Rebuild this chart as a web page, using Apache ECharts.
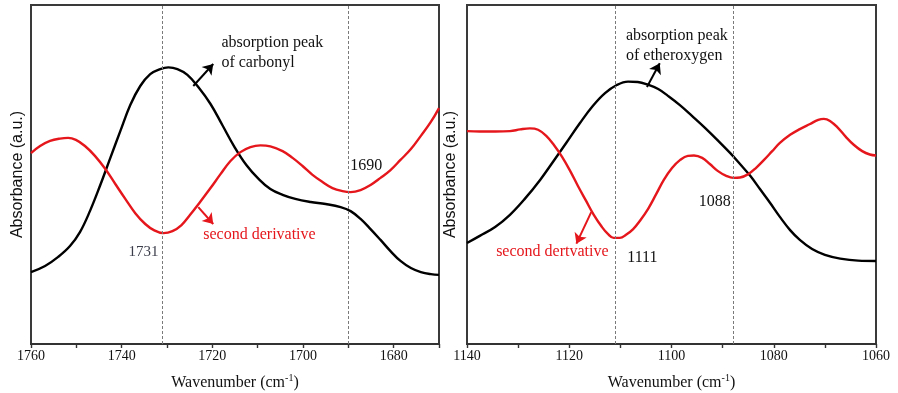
<!DOCTYPE html>
<html>
<head>
<meta charset="utf-8">
<script src="https://cdn.jsdelivr.net/npm/echarts@6/dist/echarts.min.js"></script>
<style>
  html, body { margin: 0; padding: 0; background: #fff; }
  #chart { width: 898px; height: 393px; }
</style>
</head>
<body>
<div id="chart"></div>
<script>
// Carbonyl region (1760–1670 cm-1): absorbance and its second derivative
const carbonylWn  = [1760, 1756.9, 1754, 1751.4, 1749.2, 1747, 1744.8, 1742.5, 1740.3, 1738.1, 1735.9, 1733.7, 1731.5, 1729.7, 1727.7, 1725.5, 1723.1, 1720.4, 1717.8, 1715.1, 1712.5, 1709.8, 1707.2, 1704.5, 1701.7, 1698.3, 1695, 1691.7, 1689.5, 1687.3, 1685.1, 1682.9, 1680.7, 1678.5, 1676.2, 1674, 1671.8, 1670];
const carbonylAbs = [21.2, 23.0, 25.7, 28.9, 33.0, 39.2, 46.6, 54.9, 62.8, 70.5, 76.1, 79.6, 81.1, 81.6, 81.1, 79.4, 75.8, 70.8, 64.6, 58.1, 52.8, 48.7, 45.7, 44.0, 42.8, 41.9, 41.3, 40.4, 39.2, 36.9, 33.9, 30.7, 27.4, 24.5, 22.4, 21.2, 20.6, 20.4];
const carbonylD2Wn = [1760, 1758, 1755.8, 1753.6, 1751.8, 1750.1, 1748.1, 1745.9, 1743.6, 1741.4, 1739.2, 1737, 1734.8, 1732.8, 1730.8, 1728.8, 1726.8, 1724.9, 1722.7, 1720.4, 1718.2, 1716, 1713.8, 1711.6, 1709.4, 1707.2, 1704.5, 1702.3, 1700.1, 1697.9, 1695.7, 1693.5, 1691.3, 1689.5, 1687.3, 1685.1, 1682.9, 1680.7, 1678.5, 1676.2, 1674, 1671.8, 1670];
const carbonylD2   = [56.3, 58.4, 59.9, 60.6, 60.8, 60.2, 58.4, 55.5, 51.6, 47.2, 42.8, 38.6, 35.4, 33.5, 32.7, 33.3, 35.1, 38.1, 41.9, 46.0, 50.1, 54.0, 56.6, 58.1, 58.6, 58.3, 56.9, 54.9, 52.5, 49.9, 47.8, 46.0, 45.1, 44.8, 45.4, 46.9, 49.0, 51.3, 54.3, 57.5, 61.4, 65.5, 69.6];

// Ether-oxygen region (1140–1060 cm-1)
const etherWn  = [1140, 1137.5, 1134.5, 1131.6, 1128.7, 1125.7, 1123.2, 1120.6, 1117.9, 1115.4, 1113, 1110.7, 1108.5, 1106.6, 1104.6, 1102.6, 1100.7, 1098.3, 1096, 1093.4, 1090.9, 1088.5, 1086.6, 1084.6, 1082.7, 1080.7, 1078.8, 1076.8, 1074.9, 1072.5, 1070, 1067, 1063.5, 1060];
const etherAbs = [29.8, 31.9, 34.5, 38.1, 42.8, 48.4, 53.7, 59.3, 65.2, 70.2, 74.0, 76.4, 77.4, 77.3, 76.5, 75.2, 73.2, 70.4, 67.3, 63.7, 60.0, 56.3, 53.1, 49.6, 45.7, 41.6, 37.5, 33.6, 30.7, 28.0, 26.3, 25.2, 24.6, 24.5];
const etherD2Wn = [1140, 1137.5, 1134.5, 1131.6, 1129.6, 1127.7, 1126.1, 1124.5, 1123, 1121.4, 1119.8, 1118.3, 1116.7, 1115.2, 1113.6, 1112.4, 1111.3, 1110.1, 1108.9, 1107.5, 1106.2, 1104.6, 1103, 1101.5, 1099.9, 1098.3, 1096.8, 1095.6, 1094, 1092.5, 1090.9, 1089.3, 1087.9, 1086.6, 1085, 1083.5, 1081.9, 1080.3, 1078.8, 1076.8, 1074.9, 1072.9, 1071.3, 1070.2, 1069, 1067.4, 1065.9, 1064.3, 1062.7, 1061.2, 1060];
const etherD2   = [62.8, 62.7, 62.7, 62.8, 63.3, 63.6, 63.2, 61.4, 58.7, 55.2, 51.0, 46.6, 42.2, 38.1, 34.5, 32.4, 31.3, 31.3, 32.2, 33.9, 36.3, 39.8, 44.2, 48.4, 51.9, 54.3, 55.5, 55.6, 54.9, 53.1, 51.0, 49.6, 49.0, 49.1, 50.1, 51.9, 54.3, 56.9, 59.3, 61.7, 63.4, 64.9, 66.1, 66.4, 65.8, 63.7, 61.1, 58.7, 56.9, 55.9, 55.6];

// Band positions marked by dashed guides
const carbonylBands = [1731, 1690];
const etherBands = [1111, 1088];

const SERIF = '"Liberation Serif", "DejaVu Serif", serif';
const SANS = '"Liberation Sans", Arial, sans-serif';
const RED = '#e5171c';

const pairs = (xs, ys) => xs.map((x, i) => [x, ys[i]]);

function xAxisFor(gridIndex, min, max) {
  return {
    type: 'value', gridIndex, min, max, interval: 10, inverse: true,
    axisLine: { show: true, onZero: false, lineStyle: { color: '#333', width: 2 } },
    axisTick: { show: true, inside: false, length: 4, lineStyle: { color: '#333', width: 1.4 } },
    axisLabel: {
      margin: 5, color: '#111', fontFamily: SERIF, fontSize: 14,
      formatter: v => (v % 20 === 0 ? String(v) : '')
    },
    splitLine: { show: false },
    name: '{t|Wavenumber (cm}{s|-1}{t|)}',
    nameLocation: 'middle', nameGap: 29,
    nameTextStyle: {
      rich: {
        t: { fontFamily: SERIF, fontSize: 16, color: '#111', verticalAlign: 'bottom', lineHeight: 18 },
        s: { fontFamily: SERIF, fontSize: 10, color: '#111', verticalAlign: 'top', lineHeight: 18, padding: [0, 0, 8, 0] }
      }
    }
  };
}

function yAxisFor(gridIndex, gap) {
  return {
    type: 'value', gridIndex, min: 0, max: 100,
    axisLine: { show: false }, axisTick: { show: false },
    axisLabel: { show: false }, splitLine: { show: false },
    name: 'Absorbance (a.u.)', nameLocation: 'middle', nameGap: gap,
    nameTextStyle: { fontFamily: SANS, fontSize: 16, color: '#111' }
  };
}

function curve(name, xi, data, color, extra) {
  return Object.assign({
    name, type: 'line', xAxisIndex: xi, yAxisIndex: xi,
    data, smooth: 0.4, showSymbol: false, symbol: 'none',
    lineStyle: { color, width: 2.4 }, itemStyle: { color },
    z: 3, silent: true
  }, extra || {});
}

function guides(xi, bands) {
  return {
    type: 'line', xAxisIndex: xi, yAxisIndex: xi, data: [], silent: true,
    markLine: {
      symbol: 'none', silent: true, animation: false,
      label: { show: false },
      lineStyle: { color: '#7a7a7a', width: 1, type: [3, 2] },
      data: bands.map(b => ({ xAxis: b }))
    }
  };
}

function arrow(from, to, color) {
  return {
    symbol: ['none', 'arrow'], symbolSize: 10, silent: true, animation: false,
    label: { show: false },
    lineStyle: { color, width: 2, type: 'solid' },
    itemStyle: { color },
    data: [[{ coord: from }, { coord: to }]]
  };
}

function note(coord, text, color, position, distance, size) {
  return {
    coord, value: text, symbolSize: 0,
    label: {
      show: true, position, distance, formatter: text,
      fontFamily: SERIF, fontSize: size || 16, lineHeight: 20, color
    }
  };
}

function notes(items) {
  return { symbol: 'circle', symbolSize: 0, silent: true, animation: false, data: items };
}

const gridBase = {
  top: 5, bottom: 49, show: true, borderColor: '#3a3a3a', borderWidth: 2,
  containLabel: false, outerBoundsMode: 'none'
};

const option = {
  animation: false,
  backgroundColor: '#fff',
  grid: [
    Object.assign({ left: 31, right: 459 }, gridBase),
    Object.assign({ left: 467, right: 22 }, gridBase)
  ],
  xAxis: [xAxisFor(0, 1670, 1760), xAxisFor(1, 1060, 1140)],
  yAxis: [yAxisFor(0, 5), yAxisFor(1, 8)],
  series: [
    guides(0, carbonylBands),
    guides(1, etherBands),
    curve('absorbance', 0, pairs(carbonylWn, carbonylAbs), '#000', {
      markLine: arrow([1724.2, 76.1], [1719.8, 82.6], '#000'),
      markPoint: notes([
        note([1718.0, 85.8], 'absorption peak\nof carbonyl', '#111', 'right', 0)
      ])
    }),
    curve('second derivative', 0, pairs(carbonylD2Wn, carbonylD2), RED, {
      markLine: arrow([1723.1, 40.4], [1719.8, 35.4], RED),
      markPoint: notes([
        note([1722.0, 32.2], 'second derivative', RED, 'right', 0),
        note([carbonylBands[1], 52.5], String(carbonylBands[1]), '#111', 'right', 2, 16),
        note([carbonylBands[0], 27.1], String(carbonylBands[0]), '#3b3d4a', 'left', 4, 15)
      ])
    }),
    curve('absorbance', 1, pairs(etherWn, etherAbs), '#000', {
      markLine: arrow([1104.8, 75.8], [1102.3, 82.8], '#000'),
      markPoint: notes([
        note([1108.9, 87.9], 'absorption peak\nof etheroxygen', '#111', 'right', 0)
      ])
    }),
    curve('second derivative', 1, pairs(etherD2Wn, etherD2), RED, {
      markLine: arrow([1115.7, 38.9], [1118.6, 29.6], RED),
      markPoint: notes([
        note([1134.3, 27.1], 'second dertvative', RED, 'right', 0),
        note([etherBands[1], 41.9], String(etherBands[1]), '#111', 'left', 2, 16),
        note([etherBands[0], 25.4], String(etherBands[0]), '#111', 'right', 12, 16)
      ])
    })
  ]
};

const chart = echarts.init(document.getElementById('chart'), null, { renderer: 'canvas' });
chart.setOption(option);
</script>
</body>
</html>
